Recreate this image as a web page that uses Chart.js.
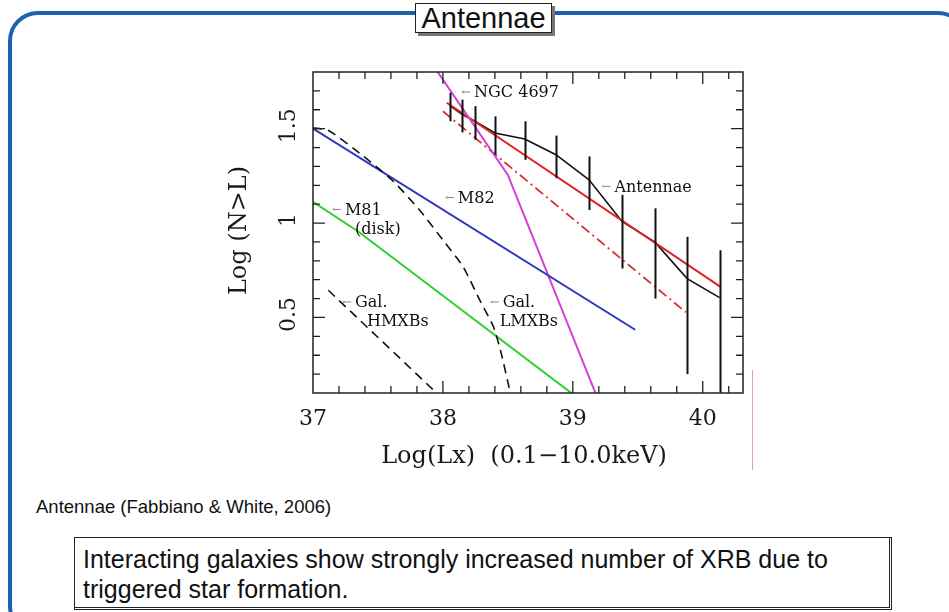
<!DOCTYPE html>
<html>
<head>
<meta charset="utf-8">
<title>Antennae</title>
<script src="https://cdn.jsdelivr.net/npm/chart.js@4.4.0/dist/chart.umd.min.js"></script>
<style>
  html, body { margin: 0; padding: 0; background: #fff; }
  #slide { position: relative; width: 949px; height: 612px; overflow: hidden; background: #fff;
           font-family: "Liberation Sans", Arial, sans-serif; color: #111; }
  #border { position: absolute; left: 8px; top: 11px; width: 960px; height: 625px;
            border: 4px solid #1b63ad; border-radius: 30px; box-sizing: border-box; }
  #title { position: absolute; left: 415px; top: 3px; width: 137px; height: 30px; box-sizing: border-box;
           border: 1px solid #222; background: #fff; box-shadow: 3px 3px 0 #777;
           font-size: 29px; line-height: 28px; text-align: center; }
  #plot { position: absolute; left: 220px; top: 50px; }
  #cite { position: absolute; left: 36px; top: 498px; font-size: 18.5px; line-height: 18px; white-space: nowrap; }
  #note { position: absolute; left: 74px; top: 537px; width: 818px; height: 73px; box-sizing: border-box;
          border: 1px solid #222; border-right: 3px double #222; border-bottom: 3px double #222;
          padding: 6px 8px 0 8px; font-size: 25px; line-height: 30px; background: #fff; white-space: nowrap; }
  #mark { position: absolute; left: 752px; top: 370px; width: 1px; height: 100px; background: #d9a3b6; }
</style>
</head>
<body>
<div id="slide">
  <div id="border"></div>
  <div id="title">Antennae</div>
  <canvas id="plot" width="540" height="430"></canvas>
  <div id="mark"></div>
  <div id="cite">Antennae (Fabbiano &amp; White, 2006)</div>
  <div id="note">Interacting galaxies show strongly increased number of XRB due to<br>triggered star formation.</div>
</div>
<script>
// axis ranges and tick labels
const xRange = [37, 40.31];
const yRange = [0.1, 1.8];
const xTickValues = [37, 38, 39, 40];
const xTickLabels = ['37', '38', '39', '40'];
const yTickValues = [0.5, 1, 1.5];
const yTickLabels = ['0.5', '1', '1.5'];
const xTitle = 'Log(Lx)  (0.1\u221210.0keV)';
const yTitle = 'Log (N>L)';

// cumulative luminosity functions
const m82X = [37.0, 39.48];
const m82Y = [1.50, 0.435];
const m81X = [37.0, 37.35, 39.0];
const m81Y = [1.113, 0.954, 0.094];
const ngcX = [37.95, 38.50, 39.18];
const ngcY = [1.81, 1.255, 0.09];
const fitX = [38.03, 40.14];
const fitY = [1.637, 0.661];
const fit2X = [38.0, 39.87];
const fit2Y = [1.592, 0.528];
const lmxbX = [37.0, 37.12, 37.39, 37.62, 37.82, 38.0, 38.156, 38.285, 38.39, 38.45, 38.515];
const lmxbY = [1.504, 1.49, 1.353, 1.22, 1.069, 0.91, 0.768, 0.59, 0.449, 0.307, 0.112];
const hmxbX = [37.118, 37.96];
const hmxbY = [0.644, 0.094];

// Antennae points with error bars
const antX = [38.054, 38.15, 38.246, 38.40, 38.63, 38.87, 39.125, 39.38, 39.63, 39.88, 40.13];
const antY = [1.622, 1.574, 1.539, 1.477, 1.445, 1.362, 1.229, 1.007, 0.90, 0.706, 0.605];
const antHi = [1.69, 1.654, 1.619, 1.565, 1.539, 1.463, 1.353, 1.149, 1.078, 0.927, 0.856];
const antLo = [1.539, 1.48, 1.441, 1.362, 1.335, 1.238, 1.069, 0.759, 0.60, 0.20, 0.09];

// galaxy names, anchored in data units (text start, first baseline)
const labelText = [['NGC 4697'], ['Antennae'], ['M82'], ['M81', '(disk)'], ['Gal.', 'HMXBs'], ['Gal.', 'LMXBs']];
const labelX = [38.24, 39.32, 38.115, 37.246, 37.323, 38.46];
const labelY = [1.665, 1.165, 1.106, 1.043, 0.553, 0.553];
const labelIndent = [[0], [0], [0], [0, 10], [0, 12], [0, -3]];

const pts = (xs, ys) => xs.map((v, i) => ({ x: v, y: ys[i] }));

function line(data, color, width, dash, tension) {
  return {
    data, borderColor: color, borderWidth: width, borderDash: dash || [],
    showLine: true, pointRadius: 0, fill: false, tension: tension || 0
  };
}

const figureFrame = {
  id: 'figureFrame',
  afterDatasetsDraw(chart) {
    const { ctx, chartArea: a, scales: { x, y } } = chart;
    ctx.save();

    // error bars
    ctx.beginPath();
    ctx.rect(a.left, a.top, a.right - a.left, a.bottom - a.top);
    ctx.clip();
    ctx.strokeStyle = '#111';
    ctx.lineWidth = 2;
    antX.forEach((v, i) => {
      const px = Math.round(x.getPixelForValue(v)) + 0.5;
      ctx.beginPath();
      ctx.moveTo(px, y.getPixelForValue(antHi[i]));
      ctx.lineTo(px, y.getPixelForValue(antLo[i]));
      ctx.stroke();
    });
    ctx.restore();

    ctx.save();
    // box and inward ticks on all sides
    ctx.strokeStyle = '#222';
    ctx.lineWidth = 1.5;
    ctx.strokeRect(a.left, a.top, a.right - a.left, a.bottom - a.top);
    ctx.lineWidth = 1.3;
    ctx.beginPath();
    for (let i = 1; i <= 16; i++) {
      const px = x.getPixelForValue(37 + i * 0.2);
      const len = i % 5 === 0 ? 12 : 7;
      ctx.moveTo(px, a.bottom); ctx.lineTo(px, a.bottom - len);
      ctx.moveTo(px, a.top); ctx.lineTo(px, a.top + len);
    }
    for (let i = 2; i <= 17; i++) {
      const py = y.getPixelForValue(i / 10);
      const len = i % 5 === 0 ? 12 : 7;
      ctx.moveTo(a.left, py); ctx.lineTo(a.left + len, py);
      ctx.moveTo(a.right, py); ctx.lineTo(a.right - len, py);
    }
    ctx.stroke();

    // tick labels
    ctx.fillStyle = '#1a1a1a';
    ctx.font = '22px "DejaVu Serif", serif';
    ctx.textAlign = 'center';
    ctx.textBaseline = 'alphabetic';
    xTickValues.forEach((v, i) => ctx.fillText(xTickLabels[i], x.getPixelForValue(v), a.bottom + 32));
    ctx.textBaseline = 'middle';
    yTickValues.forEach((v, i) => {
      ctx.save();
      ctx.translate(a.left - 24, y.getPixelForValue(v) - 3);
      ctx.rotate(-Math.PI / 2);
      ctx.fillText(yTickLabels[i], 0, 0);
      ctx.restore();
    });

    // axis titles
    ctx.font = '24px "DejaVu Serif", serif';
    ctx.textBaseline = 'alphabetic';
    ctx.fillText(xTitle, (a.left + a.right) / 2 - 4, a.bottom + 70);
    ctx.save();
    ctx.translate(a.left - 73, (a.top + a.bottom) / 2 - 2);
    ctx.rotate(-Math.PI / 2);
    ctx.textBaseline = 'middle';
    ctx.fillText(yTitle, 0, 0);
    ctx.restore();

    // galaxy names with small leaders
    ctx.font = '16px "DejaVu Serif", serif';
    ctx.textAlign = 'left';
    labelText.forEach((lines, i) => {
      const lx = x.getPixelForValue(labelX[i]);
      const ly = y.getPixelForValue(labelY[i]);
      ctx.strokeStyle = '#888';
      ctx.lineWidth = 1;
      ctx.beginPath();
      ctx.moveTo(lx - 10, ly - 5.5); ctx.lineTo(lx - 4, ly - 5.5);
      ctx.stroke();
      ctx.fillStyle = '#999';
      ctx.fillRect(lx - 12, ly - 6.5, 2, 2);
      ctx.fillStyle = '#111';
      lines.forEach((t, k) => ctx.fillText(t, lx + labelIndent[i][k], ly + k * 19));
    });
    ctx.restore();
  }
};

new Chart(document.getElementById('plot'), {
  type: 'scatter',
  data: {
    datasets: [
      line(pts(hmxbX, hmxbY), '#111', 1.6, [9, 6]),
      line(pts(lmxbX, lmxbY), '#111', 1.6, [9, 6], 0.2),
      line(pts(m81X, m81Y), '#2fcf2f', 2),
      line(pts(m82X, m82Y), '#2b35c0', 2),
      line(pts(ngcX, ngcY), '#d63fd6', 2),
      line(pts(fit2X, fit2Y), '#d83030', 1.8, [10, 4, 2, 4]),
      line(pts(fitX, fitY), '#e02020', 2),
      line(pts(antX, antY), '#111', 1.6)
    ]
  },
  options: {
    responsive: false,
    animation: false,
    events: [],
    layout: { padding: { left: 93, right: 17, top: 22, bottom: 87 } },
    plugins: { legend: { display: false }, tooltip: { enabled: false } },
    scales: {
      x: { type: 'linear', min: xRange[0], max: xRange[1], display: false },
      y: { type: 'linear', min: yRange[0], max: yRange[1], display: false }
    }
  },
  plugins: [figureFrame]
});
</script>
</body>
</html>
